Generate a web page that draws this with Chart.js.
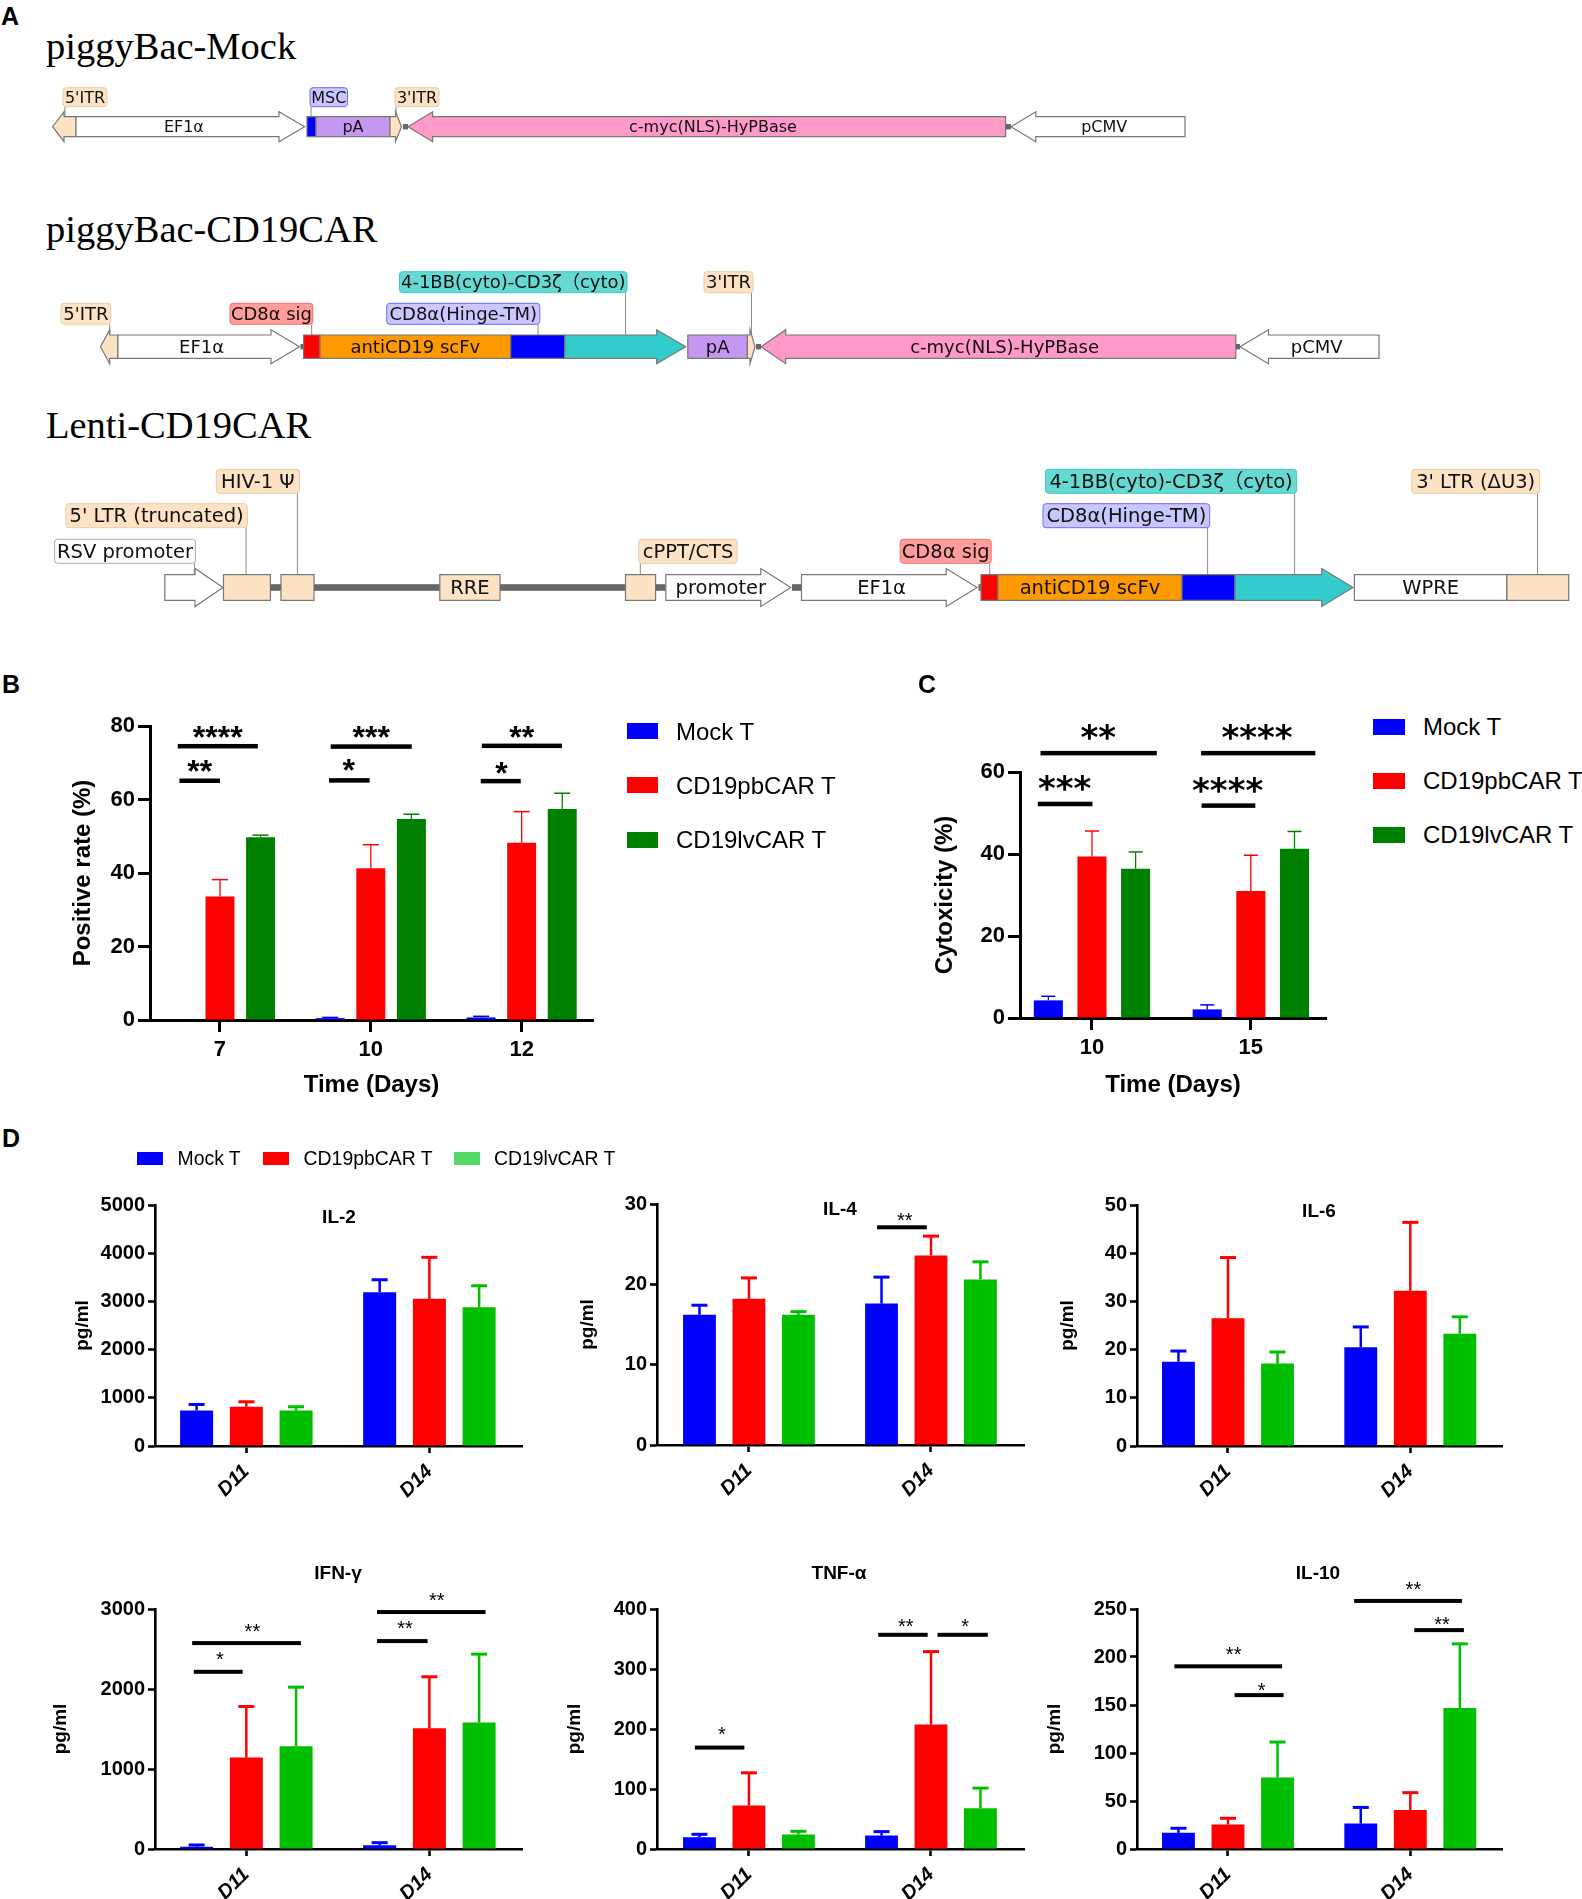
<!DOCTYPE html>
<html>
<head>
<meta charset="utf-8">
<title>CD19 CAR T constructs and function</title>
<script src="https://cdn.jsdelivr.net/npm/chart.js@4"></script>
<style>
    body { margin: 0; background: #fff; }
    #page { position: relative; width: 1582px; height: 1899px; overflow: hidden; background: #fff; }
    canvas { position: absolute; }
    .txt { position: absolute; white-space: nowrap; color: #000; font-family: 'Liberation Sans', Arial, sans-serif; }
    .swatch { position: absolute; }
</style>
</head>
<body>
<div id="page"></div>
<script>
// ---------- series ----------
const seriesNames = ['Mock T', 'CD19pbCAR T', 'CD19lvCAR T'];

// B: positive rate
const posLabels = ['7', '10', '12'];
const posTicks = [0, 20, 40, 60, 80];
const posMock = [0, 0.5, 0.7];
const posMockTop = [null, 0.7, 1.0];
const posPb = [33.6, 41.3, 48.2];
const posPbTop = [38.2, 47.7, 56.7];
const posLv = [49.7, 54.7, 57.4];
const posLvTop = [50.3, 56, 61.7];
const posSig = [
    [0.72, 1.251, 74.5, '****', 0.985, 77.9], [1.734, 2.271, 74.4, '***', 2.003, 77.9], [2.736, 3.267, 74.6, '**', 3.001, 77.9],
    [0.731, 1.0, 65.1, '**', 0.866, 68.6], [1.723, 1.992, 65.2, '*', 1.854, 68.8], [2.729, 2.994, 65, '*', 2.867, 67.9]
];

// C: cytotoxicity
const cytoLabels = ['10', '15'];
const cytoTicks = [0, 20, 40, 60];
const cytoMock = [4.3, 2.1];
const cytoMockTop = [5.3, 3.2];
const cytoPb = [39.4, 31];
const cytoPbTop = [45.6, 39.7];
const cytoLv = [36.4, 41.3];
const cytoLvTop = [40.5, 45.5];
const cytoSig = [
    [0.676, 1.408, 64.6, '**', 1.039, 69.8], [1.687, 2.406, 64.6, '****', 2.039, 69.8],
    [0.659, 1.003, 52.2, '***', 0.828, 57.2], [1.69, 2.028, 51.8, '****', 1.854, 56.9]
];

// D: cytokines
const dayLabels = ['D11', 'D14'];

const il2Ticks = [0, 1000, 2000, 3000, 4000, 5000];
const il2Mock = [737, 3192];
const il2MockTop = [862, 3449];
const il2Pb = [814, 3053];
const il2PbTop = [918, 3915];
const il2Lv = [737, 2879];
const il2LvTop = [814, 3324];

const il4Ticks = [0, 10, 20, 30];
const il4Mock = [16.2, 17.6];
const il4MockTop = [17.4, 20.9];
const il4Pb = [18.2, 23.6];
const il4PbTop = [20.8, 26];
const il4Lv = [16.2, 20.6];
const il4LvTop = [16.6, 22.8];
const il4Sig = [[1.704, 1.977, 27.1, '**', 1.856, 28.5]];

const il6Ticks = [0, 10, 20, 30, 40, 50];
const il6Mock = [17.5, 20.5];
const il6MockTop = [19.7, 24.7];
const il6Pb = [26.5, 32.2];
const il6PbTop = [39.1, 46.4];
const il6Lv = [17.1, 23.3];
const il6LvTop = [19.5, 26.8];

const ifnTicks = [0, 1000, 2000, 3000];
const ifnMock = [29, 46];
const ifnMockTop = [50, 79];
const ifnPb = [1143, 1510];
const ifnPbTop = [1781, 2153];
const ifnLv = [1285, 1581];
const ifnLvTop = [2023, 2436];
const ifnSig = [
    [0.704, 1.298, 2574, '**', 1.033, 2774], [0.713, 0.98, 2215, '*', 0.855, 2428],
    [1.714, 2.307, 2962, '**', 2.04, 3158], [1.714, 1.99, 2599, '**', 1.867, 2808]
];

const tnfTicks = [0, 100, 200, 300, 400];
const tnfMock = [19.5, 22.3];
const tnfMockTop = [24.5, 29];
const tnfPb = [72.5, 207.5];
const tnfPbTop = [127, 329];
const tnfLv = [24, 68];
const tnfLvTop = [29.5, 101.5];
const tnfSig = [
    [0.703, 0.975, 169, '*', 0.852, 198],
    [1.71, 1.982, 357, '**', 1.862, 378], [2.036, 2.312, 357, '*', 2.188, 378]
];

const il10Ticks = [0, 50, 100, 150, 200, 250];
const il10Mock = [16.8, 26.5];
const il10MockTop = [21.6, 43.3];
const il10Pb = [25.5, 40.5];
const il10PbTop = [32, 58.7];
const il10Lv = [74.4, 147];
const il10LvTop = [111.4, 213.7];
const il10Sig = [
    [0.706, 1.297, 190.3, '**', 1.031, 207], [1.036, 1.305, 160.3, '*', 1.185, 170],
    [1.692, 2.283, 258.4, '**', 2.017, 275], [2.022, 2.294, 228, '**', 2.174, 238.5]
];

// A: plasmid maps, positions along the map
const mock1Names = ['', 'EF1α', '', 'pA', '', '', 'c-myc(NLS)-HyPBase', '', 'pCMV'];
const mock1Starts = [52.6, 76, 307, 316, 390, 403, 408, 1005.6, 1011];
const mock1Ends = [76, 304.6, 316, 390, 401.5, 408, 1005.6, 1011, 1185];
const mock1Kinds = ['itr', 'white', 'blue', 'purple', 'itr', 'link', 'pink', 'link', 'white'];
const mock1Dirs = [-1, 1, 0, 0, 1, 0, -1, 0, -1];
const mock1Heads = [11.4, 25.6, 0, 0, 6, 0, 24.6, 0, 24.8];
const mock1Tags = ["5'ITR", 'MSC', "3'ITR"];
const mock1TagLefts = [63, 310, 395];
const mock1TagRights = [107, 347.5, 439];
const mock1TagTops = [87.7, 87.7, 87.7];
const mock1TagAnchors = [65, 311, 396];
const mock1TagKinds = ['itr', 'blue', 'itr'];

const pb2Names = ['', 'EF1α', '', '', 'antiCD19 scFv', '', '', 'pA', '', '', 'c-myc(NLS)-HyPBase', '', 'pCMV'];
const pb2Starts = [100.5, 117.9, 300.5, 303.6, 320, 510.7, 564.8, 687.8, 747.4, 756, 761, 1235.8, 1240];
const pb2Ends = [117.9, 299.5, 304.6, 320, 510.7, 564.8, 685.7, 747.4, 755, 761, 1235.8, 1240, 1379];
const pb2Kinds = ['itr', 'white', 'link', 'red', 'orange', 'blue', 'cyan', 'purple', 'itr', 'link', 'pink', 'link', 'white'];
const pb2Dirs = [-1, 1, 0, 0, 0, 0, 1, 0, 1, 0, -1, 0, -1];
const pb2Heads = [9.2, 28.5, 0, 0, 0, 0, 29, 0, 5, 0, 24.7, 0, 28.5];
const pb2Tags = ["5'ITR", 'CD8α sig', 'CD8α(Hinge-TM)', '4-1BB(cyto)-CD3ζ（cyto)', "3'ITR"];
const pb2TagLefts = [61, 230, 386.7, 399.5, 704];
const pb2TagRights = [110.7, 312.8, 539.8, 627, 753];
const pb2TagTops = [303.3, 303.3, 303.3, 271.7, 271.7];
const pb2TagAnchors = [109.7, 311.7, 538, 625.5, 751.5];
const pb2TagKinds = ['itr', 'red', 'blue', 'cyan', 'itr'];

const lenti3Names = ['', '', '', '', '', 'RRE', '', '', '', 'promoter', '', 'EF1α', '', '', 'antiCD19 scFv', '', '', 'WPRE', ''];
const lenti3Starts = [164.8, 223.5, 270.4, 281, 314, 439.8, 500, 625.5, 655.6, 665.8, 792, 801.5, 978.5, 981, 998, 1182, 1235, 1354.4, 1506.9];
const lenti3Ends = [223, 270.4, 281, 314, 439.8, 500, 625.5, 655.6, 665.8, 790.8, 801.5, 977, 981, 998, 1182, 1235, 1353, 1506.9, 1568.7];
const lenti3Kinds = ['white', 'itr', 'link', 'itr', 'link', 'itr', 'link', 'itr', 'link', 'white', 'link', 'white', 'link', 'red', 'orange', 'blue', 'cyan', 'white', 'itr'];
const lenti3Dirs = [1, 0, 0, 0, 0, 0, 0, 0, 0, 1, 0, 1, 0, 0, 0, 0, 1, 0, 0];
const lenti3Heads = [28, 0, 0, 0, 0, 0, 0, 0, 0, 30, 0, 30.8, 0, 0, 0, 0, 31.3, 0, 0];
const lenti3Tags = ['RSV promoter', "5' LTR (truncated)", 'HIV-1 Ψ', 'cPPT/CTS', 'CD8α sig', 'CD8α(Hinge-TM)', '4-1BB(cyto)-CD3ζ（cyto)', "3' LTR (ΔU3)"];
const lenti3TagLefts = [54.6, 65.8, 216.3, 638.8, 900.2, 1043, 1045.5, 1411.7];
const lenti3TagRights = [195.4, 247.4, 299.5, 737.2, 991.2, 1209.7, 1296.6, 1539.6];
const lenti3TagTops = [539.3, 503.7, 469.3, 539.3, 539.3, 503.7, 469.3, 469.3];
const lenti3TagAnchors = [194.4, 246, 297.4, 640.3, 989.7, 1207.6, 1294.6, 1537.5];
const lenti3TagKinds = ['white', 'itr', 'itr', 'itr', 'red', 'blue', 'cyan', 'itr'];

// ---------- colours ----------
const BLUE = '#0000ff';
const RED = '#ff0000';
const DARK_GREEN = '#008000';
const GREEN = '#00bf00';
const LEGEND_GREEN = '#55d966';

const featureFill = {
    itr: '#fde3c4', white: '#ffffff', blue: '#0000ff', purple: '#c497f0', pink: '#ff99c8',
    red: '#ff0000', orange: '#ff9900', cyan: '#33cccc', link: '#666666'
};
const tagFill = { itr: '#fde3c4', blue: '#c8c8ff', red: '#ff9d9d', cyan: '#66d9d3', white: '#ffffff' };
const tagEdge = { itr: '#e6cfa9', blue: '#6a6aff', red: '#ff6b6b', cyan: '#3cc9c4', white: '#aaaaaa' };

Chart.defaults.font.family = "'Liberation Sans', Arial, sans-serif";
Chart.defaults.color = '#000';

const page = document.getElementById('page');

function addText(text, x, y, css, centered) {
    const el = document.createElement('div');
    el.className = 'txt';
    el.textContent = text;
    el.style.cssText = css;
    el.style.left = x + 'px';
    el.style.top = y + 'px';
    el.style.transform = centered ? 'translate(-50%,-50%)' : 'translateY(-50%)';
    page.appendChild(el);
}

function addCanvas(left, top, width, height) {
    const c = document.createElement('canvas');
    c.width = width;
    c.height = height;
    c.style.left = left + 'px';
    c.style.top = top + 'px';
    c.style.width = width + 'px';
    c.style.height = height + 'px';
    page.appendChild(c);
    return c;
}

// upper error bars, read from each dataset's errorTops
const errorBarPlugin = {
    id: 'errorBars',
    afterDatasetsDraw(chart, args, opts) {
        const { ctx, scales: { y } } = chart;
        chart.data.datasets.forEach((ds, i) => {
            chart.getDatasetMeta(i).data.forEach((bar, j) => {
                const top = ds.errorTops[j];
                if (top === null) return;
                const yTop = y.getPixelForValue(top);
                ctx.save();
                ctx.strokeStyle = ds.backgroundColor;
                ctx.lineWidth = opts.lineWidth;
                ctx.beginPath();
                ctx.moveTo(bar.x, y.getPixelForValue(ds.data[j].y));
                ctx.lineTo(bar.x, yTop);
                ctx.stroke();
                ctx.lineWidth = opts.capThick;
                ctx.beginPath();
                ctx.moveTo(bar.x - opts.capWidth / 2, yTop);
                ctx.lineTo(bar.x + opts.capWidth / 2, yTop);
                ctx.stroke();
                ctx.restore();
            });
        });
    }
};

// significance bars and stars
const sigPlugin = {
    id: 'sigBars',
    afterDraw(chart, args, opts) {
        const { ctx, scales: { x, y } } = chart;
        (opts.rows || []).forEach(([from, to, level, stars, starX, starLevel]) => {
            ctx.save();
            ctx.fillStyle = '#000';
            const py = y.getPixelForValue(level);
            ctx.fillRect(x.getPixelForValue(from), py - opts.thick / 2, x.getPixelForValue(to) - x.getPixelForValue(from), opts.thick);
            ctx.font = opts.font;
            ctx.textAlign = 'center';
            ctx.textBaseline = 'alphabetic';
            ctx.fillText(stars, x.getPixelForValue(starX), y.getPixelForValue(starLevel) + opts.starDrop);
            ctx.restore();
        });
    }
};

function barPanel(o) {
    const marginTop = 80, marginRight = 40;
    const canvasLeft = Math.floor(o.titleX - o.yTitleSize * 0.6);
    const yWidth = o.left - canvasLeft;
    const plotW = o.right - o.left, plotH = o.bottom - o.top;
    const canvas = addCanvas(canvasLeft, o.top - marginTop, yWidth + plotW + marginRight, marginTop + plotH + o.xHeight);

    const datasets = o.series.map(s => ({
        label: s.name,
        data: s.values.map((v, i) => ({ x: i + 1, y: v })),
        errorTops: s.tops,
        backgroundColor: s.color,
        borderWidth: 0,
        categoryPercentage: o.catPct,
        barPercentage: o.barPct
    }));

    new Chart(canvas, {
        type: 'bar',
        data: { datasets },
        plugins: [errorBarPlugin, sigPlugin],
        options: {
            responsive: false,
            animation: false,
            devicePixelRatio: 1,
            layout: { padding: { left: 0, top: marginTop, right: marginRight, bottom: 0 } },
            plugins: {
                legend: { display: false },
                tooltip: { enabled: false },
                errorBars: o.err,
                sigBars: { ...o.sigStyle, rows: o.sig }
            },
            scales: {
                x: {
                    type: 'linear',
                    offset: false,
                    min: o.xMin,
                    max: o.xMax,
                    afterBuildTicks: s => { s.ticks = o.labels.map((l, i) => ({ value: i + 1 })); },
                    afterFit: s => { s.height = o.xHeight; },
                    grid: { offset: false, drawOnChartArea: false, tickLength: o.tickLength, tickWidth: o.axisWidth, tickColor: '#000' },
                    border: { color: '#000', width: o.axisWidth },
                    ticks: {
                        autoSkip: false,
                        minRotation: o.xRotation,
                        maxRotation: o.xRotation,
                        padding: o.xTickPad,
                        color: '#000',
                        font: o.xFont,
                        callback: v => o.labels[v - 1]
                    },
                    title: o.xTitle ? {
                        display: true,
                        text: o.xTitle,
                        color: '#000',
                        padding: 0,
                        font: { size: 24, weight: 'bold' }
                    } : { display: false }
                },
                y: {
                    type: 'linear',
                    min: 0,
                    max: o.yTicks[o.yTicks.length - 1],
                    afterBuildTicks: s => { s.ticks = o.yTicks.map(value => ({ value })); },
                    afterFit: s => { s.width = yWidth; },
                    grid: { drawOnChartArea: false, tickLength: o.tickLength, tickWidth: o.axisWidth, tickColor: '#000' },
                    border: { color: '#000', width: o.axisWidth },
                    ticks: { padding: 3, color: '#000', font: { size: o.yTickSize, weight: 'bold' }, callback: v => String(v) },
                    title: {
                        display: true,
                        text: o.yTitle,
                        color: '#000',
                        padding: 0,
                        font: { size: o.yTitleSize, weight: 'bold' }
                    }
                }
            }
        }
    });
}

function threeSeries(colorC, mock, mockTop, pb, pbTop, lv, lvTop) {
    return [
        { name: seriesNames[0], color: BLUE, values: mock, tops: mockTop },
        { name: seriesNames[1], color: RED, values: pb, tops: pbTop },
        { name: seriesNames[2], color: colorC, values: lv, tops: lvTop }
    ];
}

// ---------- panel B ----------
barPanel({
    left: 150, right: 593, top: 726, bottom: 1020,
    xMin: 0.536, xMax: 3.473, catPct: 0.807, barPct: 0.714,
    labels: posLabels, yTicks: posTicks, yTitle: 'Positive rate (%)', yTitleSize: 24, titleX: 84,
    xTitle: 'Time (Days)', xHeight: 80, xRotation: 0, xTickPad: 5,
    xFont: { size: 22, weight: 'bold' }, yTickSize: 22, tickLength: 12, axisWidth: 3,
    series: threeSeries(DARK_GREEN, posMock, posMockTop, posPb, posPbTop, posLv, posLvTop),
    err: { lineWidth: 1.3, capWidth: 16, capThick: 1.5 },
    sig: posSig,
    sigStyle: { thick: 4.5, font: "bold 32px 'Liberation Sans'", starDrop: 14 }
});

// ---------- panel C ----------
barPanel({
    left: 1020, right: 1326, top: 772, bottom: 1018,
    xMin: 0.547, xMax: 2.473, catPct: 0.824, barPct: 0.666,
    labels: cytoLabels, yTicks: cytoTicks, yTitle: 'Cytoxicity (%)', yTitleSize: 24, titleX: 946,
    xTitle: 'Time (Days)', xHeight: 82, xRotation: 0, xTickPad: 5,
    xFont: { size: 22, weight: 'bold' }, yTickSize: 22, tickLength: 12, axisWidth: 3,
    series: threeSeries(DARK_GREEN, cytoMock, cytoMockTop, cytoPb, cytoPbTop, cytoLv, cytoLvTop),
    err: { lineWidth: 1.3, capWidth: 14, capThick: 1.5 },
    sig: cytoSig,
    sigStyle: { thick: 4.5, font: "bold 34px 'DejaVu Sans'", starDrop: 17 }
});

// ---------- panel D ----------
const cytokineBase = {
    catPct: 0.815, barPct: 0.664, labels: dayLabels, yTitle: 'pg/ml', yTitleSize: 19,
    xHeight: 60, xRotation: 45, xTickPad: 7,
    xFont: { size: 20, weight: 'bold', style: 'italic' }, yTickSize: 20, tickLength: 7, axisWidth: 2.6,
    err: { lineWidth: 2.5, capWidth: 16, capThick: 3 },
    sigStyle: { thick: 4, font: "20px 'Liberation Sans'", starDrop: 11 }
};

barPanel({ ...cytokineBase, left: 155, right: 522, top: 1205, bottom: 1446, xMin: 0.501, xMax: 2.506, titleX: 83,
    yTicks: il2Ticks, series: threeSeries(GREEN, il2Mock, il2MockTop, il2Pb, il2PbTop, il2Lv, il2LvTop) });
barPanel({ ...cytokineBase, left: 657, right: 1024, top: 1204, bottom: 1445, xMin: 0.495, xMax: 2.511, titleX: 588,
    yTicks: il4Ticks, sig: il4Sig, series: threeSeries(GREEN, il4Mock, il4MockTop, il4Pb, il4PbTop, il4Lv, il4LvTop) });
barPanel({ ...cytokineBase, left: 1137, right: 1502, top: 1205, bottom: 1446, xMin: 0.501, xMax: 2.503, titleX: 1068,
    yTicks: il6Ticks, series: threeSeries(GREEN, il6Mock, il6MockTop, il6Pb, il6PbTop, il6Lv, il6LvTop) });
barPanel({ ...cytokineBase, left: 155, right: 522, top: 1609, bottom: 1849, xMin: 0.501, xMax: 2.506, titleX: 61,
    yTicks: ifnTicks, sig: ifnSig, series: threeSeries(GREEN, ifnMock, ifnMockTop, ifnPb, ifnPbTop, ifnLv, ifnLvTop) });
barPanel({ ...cytokineBase, left: 657, right: 1024, top: 1609, bottom: 1849, xMin: 0.495, xMax: 2.511, titleX: 575,
    yTicks: tnfTicks, sig: tnfSig, series: threeSeries(GREEN, tnfMock, tnfMockTop, tnfPb, tnfPbTop, tnfLv, tnfLvTop) });
barPanel({ ...cytokineBase, left: 1137, right: 1502, top: 1609, bottom: 1849, xMin: 0.501, xMax: 2.503, titleX: 1055,
    yTicks: il10Ticks, sig: il10Sig, series: threeSeries(GREEN, il10Mock, il10MockTop, il10Pb, il10PbTop, il10Lv, il10LvTop) });

// cytokine titles
const boldTitle = 'font-size:19px;font-weight:bold;';
addText('IL-2', 339, 1217, boldTitle, true);
addText('IL-4', 840, 1209, boldTitle, true);
addText('IL-6', 1319, 1211, boldTitle, true);
addText('IFN-γ', 338, 1573, boldTitle, true);
addText('TNF-α', 839, 1573, boldTitle, true);
addText('IL-10', 1318, 1573, boldTitle, true);

// ---------- legends ----------
function addSwatch(left, top, width, height, color) {
    const s = document.createElement('div');
    s.className = 'swatch';
    s.style.cssText = `left:${left}px;top:${top}px;width:${width}px;height:${height}px;background:${color}`;
    page.appendChild(s);
}

[[723, 732], [777, 786], [832, 840]].forEach(([swTop, textY], i) => {
    addSwatch(627, swTop, 31, 16, [BLUE, RED, DARK_GREEN][i]);
    addText(seriesNames[i], 676, textY, 'font-size:24px;');
});
[[719, 727], [773, 781], [827, 835]].forEach(([swTop, textY], i) => {
    addSwatch(1373, swTop, 32, 16, [BLUE, RED, DARK_GREEN][i]);
    addText(seriesNames[i], 1423, textY, 'font-size:24px;');
});
[[137, 177.5], [263, 303.6], [454, 494]].forEach(([swLeft, textX], i) => {
    addSwatch(swLeft, 1152, 26, 12.5, [BLUE, RED, LEGEND_GREEN][i]);
    addText(seriesNames[i], textX, 1158, 'font-size:19.4px;');
});

// ---------- panel letters and plasmid titles ----------
const letterCss = 'font-size:25px;font-weight:bold;';
addText('A', 1, 16, letterCss);
addText('B', 2, 684, letterCss);
addText('C', 918, 684, letterCss);
addText('D', 2, 1138, letterCss);
const serifCss = "font-family:'Liberation Serif',serif;font-size:38.5px;";
addText('piggyBac-Mock', 46, 46, serifCss);
addText('piggyBac-CD19CAR', 46, 229, serifCss);
addText('Lenti-CD19CAR', 46, 425, serifCss);

// ---------- panel A: plasmid maps on one chart with hidden axes ----------
const tracks = [
    { centre: 126.7, body: 10, head: 15, link: 2.7, font: 16, tagHeight: 19,
      names: mock1Names, starts: mock1Starts, ends: mock1Ends, kinds: mock1Kinds, dirs: mock1Dirs, heads: mock1Heads,
      tags: mock1Tags, tagLefts: mock1TagLefts, tagRights: mock1TagRights, tagTops: mock1TagTops, tagAnchors: mock1TagAnchors, tagKinds: mock1TagKinds },
    { centre: 346.7, body: 11.7, head: 17, link: 2.7, font: 18, tagHeight: 21,
      names: pb2Names, starts: pb2Starts, ends: pb2Ends, kinds: pb2Kinds, dirs: pb2Dirs, heads: pb2Heads,
      tags: pb2Tags, tagLefts: pb2TagLefts, tagRights: pb2TagRights, tagTops: pb2TagTops, tagAnchors: pb2TagAnchors, tagKinds: pb2TagKinds },
    { centre: 587.5, body: 12.8, head: 19, link: 3.3, font: 19.5, tagHeight: 24,
      names: lenti3Names, starts: lenti3Starts, ends: lenti3Ends, kinds: lenti3Kinds, dirs: lenti3Dirs, heads: lenti3Heads,
      tags: lenti3Tags, tagLefts: lenti3TagLefts, tagRights: lenti3TagRights, tagTops: lenti3TagTops, tagAnchors: lenti3TagAnchors, tagKinds: lenti3TagKinds }
];

const MAP_FONT = "'DejaVu Sans', 'Noto Sans CJK SC', sans-serif";

function featurePath(ctx, x0, x1, dir, headLen, yc, body, head) {
    ctx.beginPath();
    if (dir === 1) {
        ctx.moveTo(x0, yc - body);
        ctx.lineTo(x1 - headLen, yc - body);
        ctx.lineTo(x1 - headLen, yc - head);
        ctx.lineTo(x1, yc);
        ctx.lineTo(x1 - headLen, yc + head);
        ctx.lineTo(x1 - headLen, yc + body);
        ctx.lineTo(x0, yc + body);
    } else if (dir === -1) {
        ctx.moveTo(x1, yc - body);
        ctx.lineTo(x0 + headLen, yc - body);
        ctx.lineTo(x0 + headLen, yc - head);
        ctx.lineTo(x0, yc);
        ctx.lineTo(x0 + headLen, yc + head);
        ctx.lineTo(x0 + headLen, yc + body);
        ctx.lineTo(x1, yc + body);
    } else {
        ctx.rect(x0, yc - body, x1 - x0, body * 2);
    }
    ctx.closePath();
}

const mapPlugin = {
    id: 'plasmidMap',
    afterDraw(chart) {
        const { ctx, scales: { x, y } } = chart;
        tracks.forEach(t => {
            const yc = y.getPixelForValue(t.centre);
            const bodyTop = y.getPixelForValue(t.centre - t.body);

            // leader lines and tags
            t.tags.forEach((tag, i) => {
                const left = x.getPixelForValue(t.tagLefts[i]);
                const right = x.getPixelForValue(t.tagRights[i]);
                const top = y.getPixelForValue(t.tagTops[i]);
                const ax = x.getPixelForValue(t.tagAnchors[i]);
                ctx.strokeStyle = '#8a8a8a';
                ctx.lineWidth = 1;
                ctx.beginPath();
                ctx.moveTo(ax, top + t.tagHeight);
                ctx.lineTo(ax, bodyTop);
                ctx.stroke();

                ctx.fillStyle = tagFill[t.tagKinds[i]];
                ctx.strokeStyle = tagEdge[t.tagKinds[i]];
                ctx.beginPath();
                ctx.roundRect(left, top, right - left, t.tagHeight, 3);
                ctx.fill();
                ctx.stroke();

                ctx.fillStyle = '#111';
                ctx.font = `${t.font}px ${MAP_FONT}`;
                ctx.textAlign = 'center';
                ctx.textBaseline = 'middle';
                ctx.fillText(tag, (left + right) / 2, top + t.tagHeight / 2 + 1.5, right - left - 2);
            });

            // features
            t.names.forEach((name, i) => {
                const x0 = x.getPixelForValue(t.starts[i]);
                const x1 = x.getPixelForValue(t.ends[i]);
                const kind = t.kinds[i];
                ctx.fillStyle = featureFill[kind];
                if (kind === 'link') {
                    ctx.fillRect(x0, yc - t.link, x1 - x0, t.link * 2);
                    return;
                }
                featurePath(ctx, x0, x1, t.dirs[i], t.heads[i], yc, t.body, t.head);
                ctx.fill();
                ctx.strokeStyle = '#777';
                ctx.lineWidth = 1.2;
                ctx.stroke();
                if (name) {
                    ctx.fillStyle = '#111';
                    ctx.font = `${t.font}px ${MAP_FONT}`;
                    ctx.textAlign = 'center';
                    ctx.textBaseline = 'middle';
                    ctx.fillText(name, (x0 + x1) / 2 - t.dirs[i] * t.heads[i] * 0.25, yc + 1.5);
                }
            });
        });
    }
};

new Chart(addCanvas(0, 0, 1582, 640), {
    type: 'scatter',
    data: { datasets: [] },
    plugins: [mapPlugin],
    options: {
        responsive: false,
        animation: false,
        devicePixelRatio: 1,
        layout: { padding: 0 },
        plugins: { legend: { display: false }, tooltip: { enabled: false } },
        scales: {
            x: { type: 'linear', min: 0, max: 1582, display: false },
            y: { type: 'linear', min: 0, max: 640, reverse: true, display: false }
        }
    }
});
</script>
</body>
</html>
